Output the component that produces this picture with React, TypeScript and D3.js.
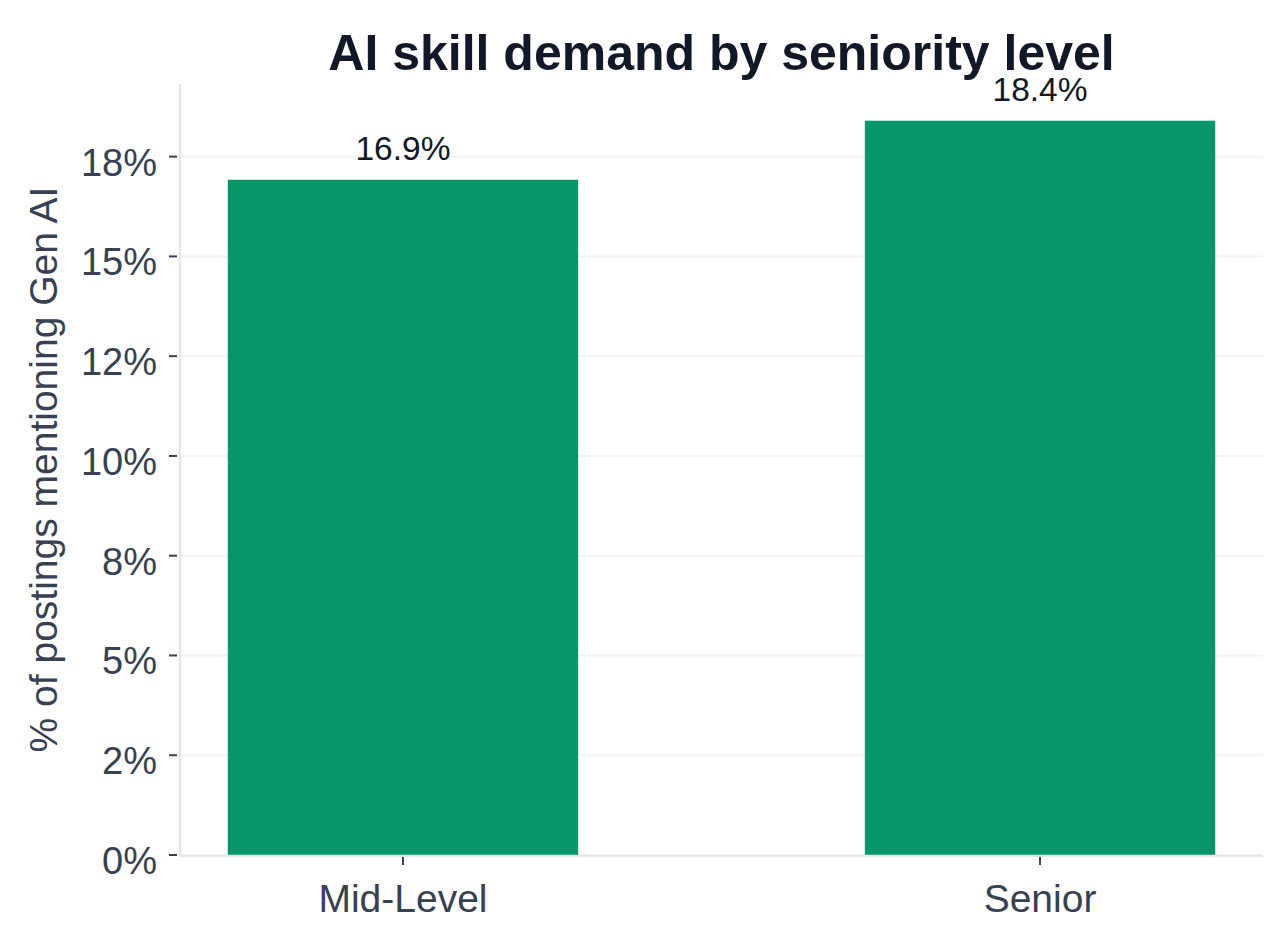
import React from "react";
import * as d3 from "d3";

const categories = ["Mid-Level", "Senior"];
const values = [16.92, 18.4];
const valueLabels = ["16.9%", "18.4%"];
const yTickValues = [0, 2.5, 5, 7.5, 10, 12.5, 15, 17.5];
const yTickLabels = ["0%", "2%", "5%", "8%", "10%", "12%", "15%", "18%"];
const title = "AI skill demand by seniority level";
const yLabel = "% of postings mentioning Gen AI";

const W = 1283;
const H = 940;
const M = { left: 180, right: 1263, top: 84, bottom: 855 };
const FONT = "'Liberation Sans', Arial, Helvetica, sans-serif";

export default function App() {
  const yMax = d3.max(values)! * 1.05;
  const y = d3.scaleLinear().domain([0, yMax]).range([M.bottom, M.top]);
  const x = d3.scaleLinear().domain([-0.35, categories.length - 1 + 0.35]).range([M.left, M.right]);
  const barW = 0.55;

  return (
    <svg width={W} height={H} style={{ position: "absolute", left: 0, top: 0, background: "#fff" }} fontFamily={FONT}>
      {/* gridlines */}
      {yTickValues.map((t, i) => (
        <line key={"g" + i} x1={M.left} x2={M.right} y1={y(t)} y2={y(t)} stroke="#f3f4f6" strokeWidth={2} />
      ))}
      {/* bars */}
      {categories.map((c, i) => (
        <rect
          key={"b" + i}
          x={x(i - barW / 2)}
          width={x(i + barW / 2) - x(i - barW / 2)}
          y={y(values[i])}
          height={y(0) - y(values[i])}
          fill="#069669"
        />
      ))}
      {/* spines */}
      <line x1={M.left} x2={M.left} y1={M.top} y2={M.bottom + 1} stroke="#e5e7eb" strokeWidth={2.5} />
      <line x1={M.left} x2={M.right} y1={M.bottom + 1} y2={M.bottom + 1} stroke="#e5e7eb" strokeWidth={2.5} />
      {/* y ticks */}
      {yTickValues.map((t, i) => (
        <g key={"yt" + i}>
          <line x1={169} x2={177} y1={y(t)} y2={y(t)} stroke="#374151" strokeWidth={2} />
          <text x={157} y={y(t) + 19} textAnchor="end" fontSize={38} fill="#374151">
            {yTickLabels[i]}
          </text>
        </g>
      ))}
      {/* x ticks */}
      {categories.map((c, i) => (
        <g key={"xt" + i}>
          <line x1={x(i)} x2={x(i)} y1={857} y2={865} stroke="#374151" strokeWidth={2} />
          <text x={x(i)} y={912} textAnchor="middle" fontSize={39} fill="#374151">
            {c}
          </text>
        </g>
      ))}
      {/* value labels */}
      {categories.map((c, i) => (
        <text key={"v" + i} x={x(i)} y={y(values[i]) - 20} textAnchor="middle" fontSize={33.5} fill="#111827">
          {valueLabels[i]}
        </text>
      ))}
      {/* y label */}
      <text
        transform={`translate(57, ${(M.top + M.bottom) / 2}) rotate(-90)`}
        textAnchor="middle"
        fontSize={39}
        fill="#374151"
      >
        {yLabel}
      </text>
      {/* title */}
      <text x={(M.left + M.right) / 2} y={70} textAnchor="middle" fontSize={50} fontWeight="bold" fill="#111827">
        {title}
      </text>
    </svg>
  );
}
